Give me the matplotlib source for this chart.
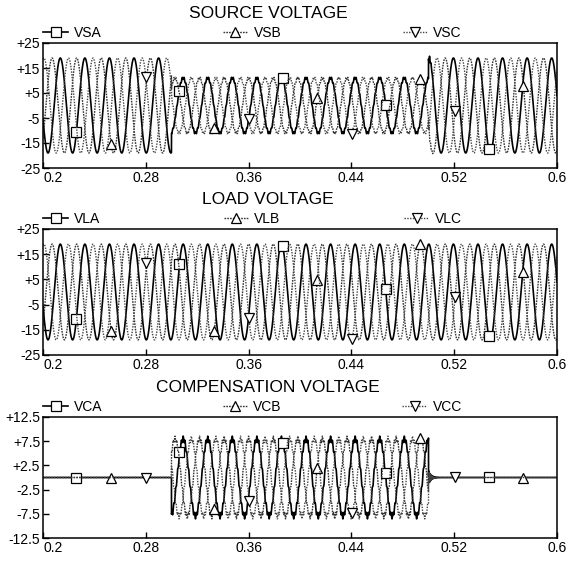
import matplotlib
matplotlib.use('Agg')
import matplotlib.pyplot as plt
import numpy as np

plt.rcParams['font.family'] = ['Liberation Sans', 'DejaVu Sans']

# time window and supply
t_start, t_end = 0.2, 0.6
freq = 52.3                     # cycles/s as counted on the time axis
ref_time, ref_phase_deg = 0.226, -34.0   # phase A angle at first marker
load_amp = 19.0                 # healthy peak voltage
sag_start, sag_end = 0.30, 0.50  # sag interval
comp_amp = 8.0                  # injected voltage peak during sag
ripple_amp, ripple_order = 0.55, 13
phase_deg = [0.0, 120.0, -120.0]

# marker placement (first marker time per phase, spacing)
marker_t0 = [0.226, 0.253, 0.280]
marker_step = 0.0802

xticks = [0.2, 0.28, 0.36, 0.44, 0.52, 0.6]
xlabels = ['0.2', '0.28', '0.36', '0.44', '0.52', '0.6']
volt_ticks = [25, 15, 5, -5, -15, -25]
volt_labels = ['+25', '+15', '+5', '-5', '-15', '-25']
comp_ticks = [12.5, 7.5, 2.5, -2.5, -7.5, -12.5]
comp_labels = ['+12.5', '+7.5', '+2.5', '-2.5', '-7.5', '-12.5']

titles = ['SOURCE VOLTAGE', 'LOAD VOLTAGE', 'COMPENSATION VOLTAGE']
labels = [['VSA', 'VSB', 'VSC'], ['VLA', 'VLB', 'VLC'], ['VCA', 'VCB', 'VCC']]

t = np.linspace(t_start, t_end, 8000)
w = 2 * np.pi * freq
in_sag = (t >= sag_start) & (t < sag_end)

load, comp, source = [], [], []
for p in phase_deg:
    ang = w * (t - ref_time) + np.radians(ref_phase_deg + p)
    vl = load_amp * np.sin(ang)
    vc = comp_amp * np.sin(ang) + ripple_amp * np.sin(ripple_order * ang)
    vc = np.where(in_sag, vc, 0.0)
    # small ringing once the compensator switches off
    after = t >= sag_end
    vc = vc + np.where(after, 1.5 * np.exp(-(t - sag_end) / 0.002)
                       * np.sin(2 * np.pi * 900 * (t - sag_end) + np.radians(p)), 0.0)
    load.append(vl)
    comp.append(vc)
    source.append(vl - vc)

styles = [
    dict(color='black', lw=1.2, ls='-', marker='s'),
    dict(color='#333333', lw=1.0, ls=(0, (1.2, 0.8)), marker='^'),
    dict(color='#444444', lw=1.0, ls=(0, (1.0, 1.0)), marker='v'),
]

fig = plt.figure(figsize=(5.68, 5.62), dpi=100)
W, H = 568.0, 562.0
panels = [(43, 168), (229, 355), (417, 538)]   # top/bottom pixel rows
title_y = [13, 200, 388]
series = [source, load, comp]

for i in range(3):
    top, bot = panels[i]
    ax = fig.add_axes([43 / W, 1 - bot / H, 514 / W, (bot - top) / H])
    for j in range(3):
        idx = np.searchsorted(t, np.arange(marker_t0[j], t_end + 1e-9, marker_step))
        idx = idx[idx < len(t)]
        st = styles[j]
        ax.plot(t, series[i][j], color=st['color'], lw=st['lw'], ls=st['ls'],
                marker=st['marker'], markevery=list(idx), ms=7, mfc='white',
                mec='black', mew=0.9, label=labels[i][j])
    ax.set_xlim(t_start, t_end)
    ax.set_xticks(xticks)
    ax.set_xticklabels(xlabels)
    ax.get_xticklabels()[0].set_ha('left')
    if i < 2:
        ax.set_ylim(-25, 25)
        ax.set_yticks(volt_ticks)
        ax.set_yticklabels(volt_labels)
    else:
        ax.set_ylim(-12.5, 12.5)
        ax.set_yticks(comp_ticks)
        ax.set_yticklabels(comp_labels)
    ax.tick_params(direction='in', length=4, width=1, labelsize=10, pad=2)
    for s in ax.spines.values():
        s.set_linewidth(1.1)
    ax.legend(loc='center left', bbox_to_anchor=(0, 1 + 10 / (bot - top), 0.815, 0),
              mode='expand', ncol=3, frameon=False, borderaxespad=0, borderpad=0,
              handlelength=1.8, handletextpad=0.4, fontsize=10)
    fig.text(0.472, 1 - title_y[i] / H, titles[i], ha='center', va='center', fontsize=12.5)

fig.savefig('out.png', dpi=100)
plt.close(fig)
